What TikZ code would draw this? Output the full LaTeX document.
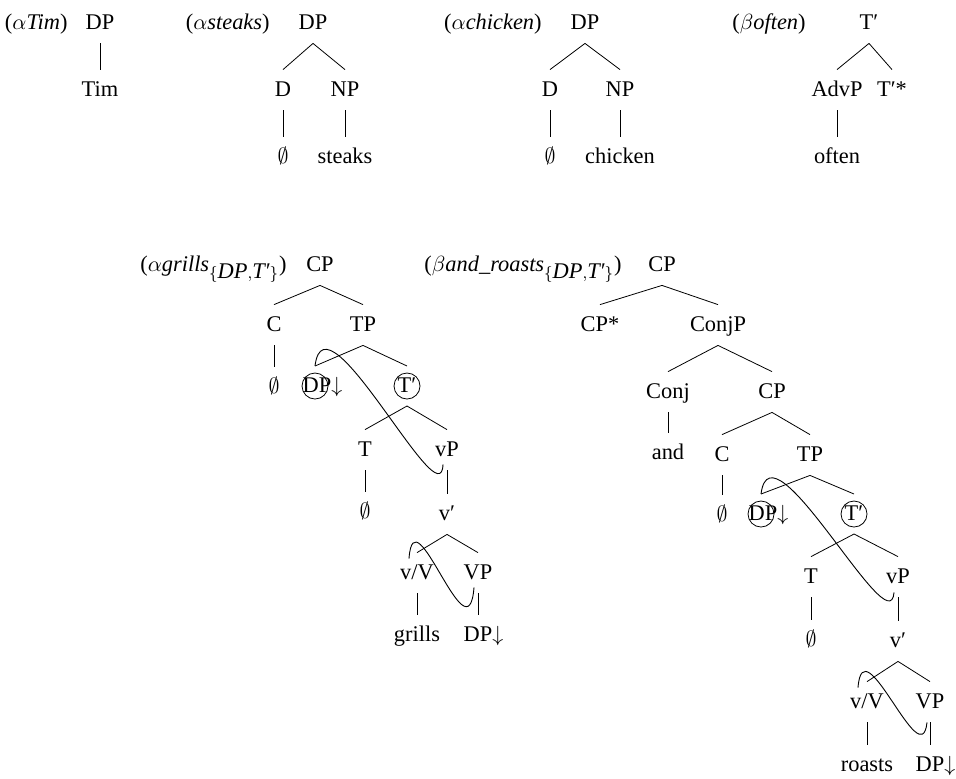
\documentclass[tikz,border=0pt]{standalone}
\usepackage{fontspec}
\setmainfont{Liberation Serif}

\begin{document}
\begin{tikzpicture}[x=0.5pt,y=-0.5pt,font=\fontsize{11.2}{13}\selectfont,
  cat/.style={inner xsep=1pt,inner ysep=5pt,text height=8pt,text depth=2pt},
  lbl/.style={cat,anchor=east},
  circ/.style={cat,draw,circle,minimum size=13pt,inner sep=0pt,outer sep=3.5pt},
  link/.style={line width=0.45pt}]
\useasboundingbox (0,0) rectangle (956,778);
% alpha Tim
\node[lbl] (t-name) at (70,23) {($\alpha$\textit{Tim})};
\node[cat] (t-dp) at (100,23) {DP};
\node[cat] (t-tim) at (100,90) {Tim};
\draw (t-dp.south)--(t-tim.north);
% alpha steaks
\node[lbl] (s-name) at (272,23) {($\alpha$\textit{steaks})};
\node[cat] (s-dp) at (313,23) {DP};
\node[cat] (s-d) at (283,90) {D};
\node[cat] (s-np) at (345,90) {NP};
\node[cat] (s-e) at (283,157) {$\emptyset$};
\node[cat] (s-n) at (345,157) {steaks};
\draw (s-dp.south)--(s-d.north);
\draw (s-dp.south)--(s-np.north);
\draw (s-d.south)--(s-e.north);
\draw (s-np.south)--(s-n.north);
% alpha chicken
\node[lbl] (c-name) at (544,23) {($\alpha$\textit{chicken})};
\node[cat] (c-dp) at (585,23) {DP};
\node[cat] (c-d) at (550,90) {D};
\node[cat] (c-np) at (620,90) {NP};
\node[cat] (c-e) at (550,157) {$\emptyset$};
\node[cat] (c-n) at (620,157) {chicken};
\draw (c-dp.south)--(c-d.north);
\draw (c-dp.south)--(c-np.north);
\draw (c-d.south)--(c-e.north);
\draw (c-np.south)--(c-n.north);
% beta often
\node[lbl] (o-name) at (808,23) {($\beta$\textit{often})};
\node[cat] (o-tb) at (869,23) {T′};
\node[cat] (o-adv) at (837,90) {AdvP};
\node[cat] (o-foot) at (892,90) {T′*};
\node[cat] (o-a) at (837,157) {often};
\draw (o-tb.south)--(o-adv.north);
\draw (o-tb.south)--(o-foot.north);
\draw (o-adv.south)--(o-a.north);
% alpha grills
\node[lbl] (g-name) at (289,265) {($\alpha$\textit{grills}$_{\{\textit{DP},\textit{T′}\}}$)};
\node[cat] (g-cp) at (320,265) {CP};
\node[cat] (g-c) at (274,325) {C};
\node[cat] (g-tp) at (363,325) {TP};
\node[cat] (g-ce) at (274,387) {$\emptyset$};
\node[circ] (g-dp) at (315,386) {\makebox[0pt]{\kern2pt DP\rlap{$\downarrow$}}};
\node[circ] (g-tb) at (407,386) {\makebox[0pt]{T′}};
\node[cat] (g-t) at (365,450) {T};
\node[cat] (g-vp) at (447,450) {vP};
\node[cat] (g-te) at (365,512) {$\emptyset$};
\node[cat] (g-vb) at (447,514) {v′};
\node[cat] (g-vv) at (417,573) {v/V};
\node[cat] (g-vpp) at (478,573) {VP};
\node[cat] (g-w) at (417,635) {grills};
\node[cat] (g-obj) at (478,635) {DP\rlap{$\downarrow$}};
\draw (g-cp.south)--(g-c.north);
\draw (g-cp.south)--(g-tp.north);
\draw (g-c.south)--(g-ce.north);
\draw (g-tp.south)--(g-dp.north);
\draw (g-tp.south)--(g-tb.north);
\draw (g-tb.south)--(g-t.north);
\draw (g-tb.south)--(g-vp.north);
\draw (g-t.south)--(g-te.north);
\draw (g-vp.south)--(g-vb.north);
\draw (g-vb.south)--(g-vv.north);
\draw (g-vb.south)--(g-vpp.north);
\draw (g-vv.south)--(g-w.north);
\draw (g-vpp.south)--(g-obj.north);
\draw[link] (g-dp.north) .. controls +(10,-80) and +(-2,58) .. ([xshift=-2pt,yshift=3pt]g-vp.south);
\draw[link] ([xshift=-4pt,yshift=-3pt]g-vv.north) .. controls +(5,-69) and +(-6,75) .. ([xshift=-2pt,yshift=3pt]g-vpp.south);
% beta and_roasts
\node[lbl] (r-name) at (624,265) {($\beta$\textit{and\_roasts}$_{\{\textit{DP},\textit{T′}\}}$)};
\node[cat] (r-cp) at (662,265) {CP};
\node[cat] (r-foot) at (600,325) {CP*};
\node[cat] (r-conjp) at (718,325) {ConjP};
\node[cat] (r-conj) at (668,392) {Conj};
\node[cat] (r-cpb) at (772,392) {CP};
\node[cat] (r-and) at (668,453) {and};
\node[cat] (r-c) at (722,455) {C};
\node[cat] (r-tp) at (810,455) {TP};
\node[cat] (r-ce) at (722,515) {$\emptyset$};
\node[circ] (r-dp) at (761,514) {\makebox[0pt]{\kern2pt DP\rlap{$\downarrow$}}};
\node[circ] (r-tb) at (854,514) {\makebox[0pt]{T′}};
\node[cat] (r-t) at (811,577) {T};
\node[cat] (r-vp) at (898,577) {vP};
\node[cat] (r-te) at (811,640) {$\emptyset$};
\node[cat] (r-vb) at (898,641) {v′};
\node[cat] (r-vv) at (867,702) {v/V};
\node[cat] (r-vpp) at (930,702) {VP};
\node[cat] (r-w) at (867,765) {roasts};
\node[cat] (r-obj) at (930,765) {DP\rlap{$\downarrow$}};
\draw (r-cp.south)--(r-foot.north);
\draw (r-cp.south)--(r-conjp.north);
\draw (r-conjp.south)--(r-conj.north);
\draw (r-conjp.south)--(r-cpb.north);
\draw (r-conj.south)--(r-and.north);
\draw (r-cpb.south)--(r-c.north);
\draw (r-cpb.south)--(r-tp.north);
\draw (r-c.south)--(r-ce.north);
\draw (r-tp.south)--(r-dp.north);
\draw (r-tp.south)--(r-tb.north);
\draw (r-tb.south)--(r-t.north);
\draw (r-tb.south)--(r-vp.north);
\draw (r-t.south)--(r-te.north);
\draw (r-vp.south)--(r-vb.north);
\draw (r-vb.south)--(r-vv.north);
\draw (r-vb.south)--(r-vpp.north);
\draw (r-vv.south)--(r-w.north);
\draw (r-vpp.south)--(r-obj.north);
\draw[link] (r-dp.north) .. controls +(10,-78) and +(-4,55) .. ([xshift=-2pt,yshift=2.5pt]r-vp.south);
\draw[link] ([xshift=-4.5pt,yshift=-3pt]r-vv.north) .. controls +(5,-65) and +(-6,55) .. ([xshift=-1.5pt]r-vpp.south);
\end{tikzpicture}
\end{document}
